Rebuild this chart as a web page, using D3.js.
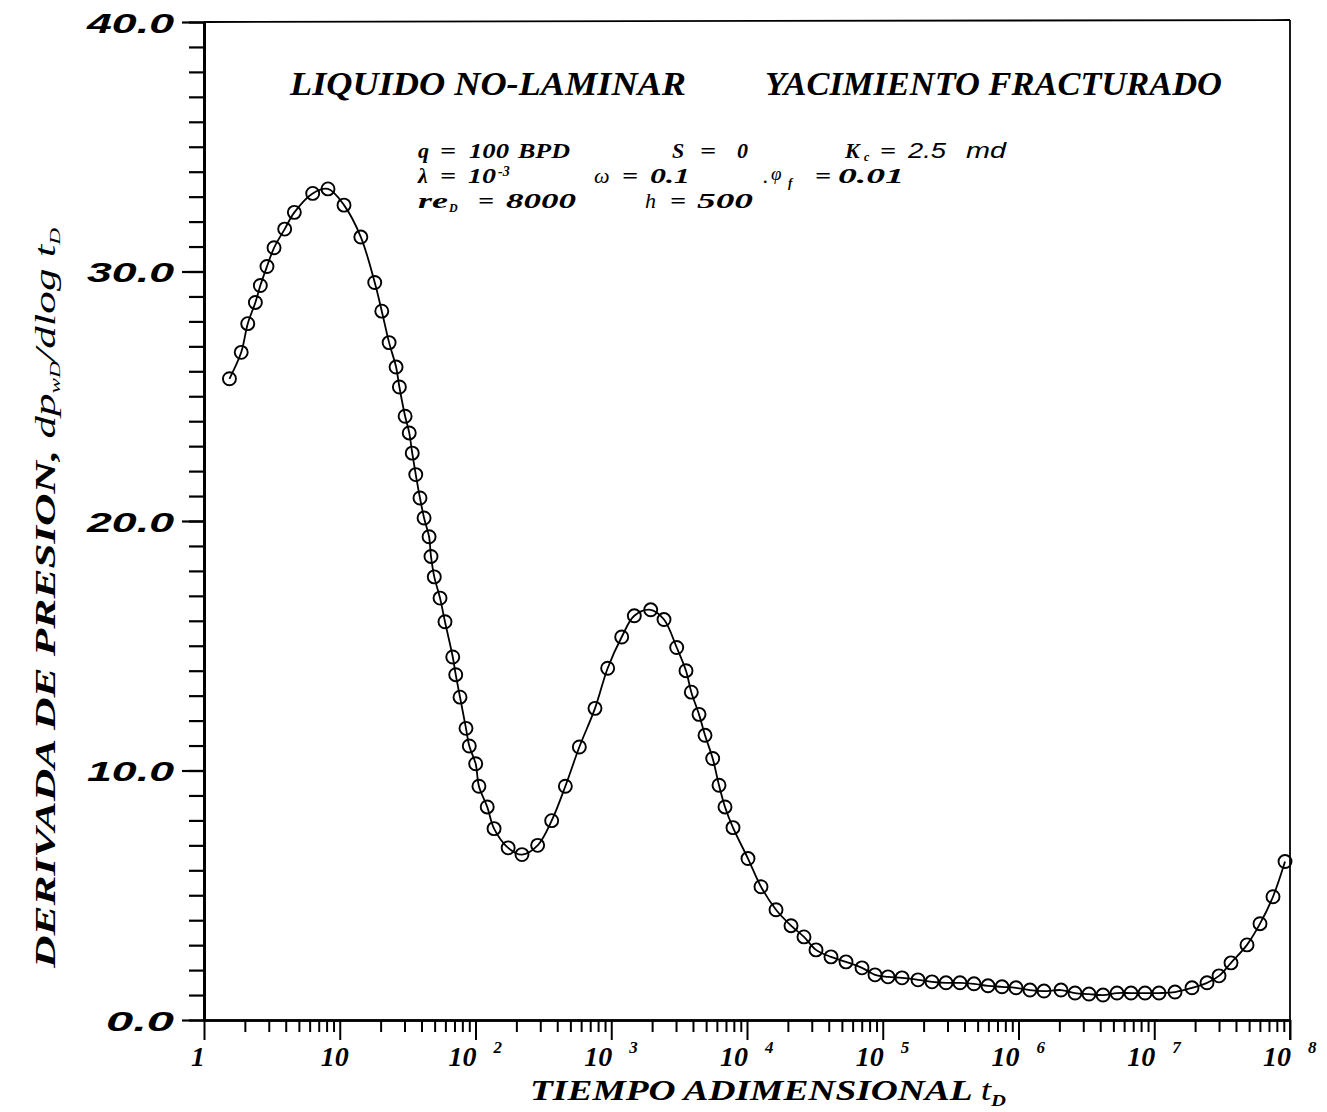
<!DOCTYPE html>
<html><head><meta charset="utf-8">
<script src="https://cdn.jsdelivr.net/npm/d3@7"></script>
<style>
body{margin:0;background:#fff}
svg{display:block}
.serif{font-family:"Liberation Serif","Times New Roman",serif;font-style:italic;font-weight:bold;fill:#000}
.math{font-family:"Liberation Serif","Times New Roman",serif;font-style:italic;font-weight:normal;fill:#000}
</style>
</head><body>
<svg id="chart" width="1327" height="1112"></svg>
<script>
// ---- data ----
const timeValues = [1.54,1.88,2.10,2.39,2.60,2.91,3.28,3.93,4.63,6.32,8.19,10.75,14.3,18.1,20.4,23.1,26.0,27.5,30.3,32.5,34.2,36.3,39.0,41.8,45.5,47.0,49.7,54.8,59.6,68.0,71.5,76.9,85.1,90.0,100.3,106,122,137,174,220,287,364,459,582,759,941,1194,1479,1953,2447,3035,3553,3888,4430,4906,5589,6220,6885,7886,10170,12680,16360,21100,26290,32240,41570,53620,70330,87690,1.093e5,1.387e5,1.818e5,2.306e5,2.924e5,3.707e5,4.701e5,5.962e5,7.558e5,9.585e5,1.215e6,1.541e6,2.056e6,2.608e6,3.306e6,4.194e6,5.317e6,6.743e6,8.55e6,1.084e7,1.422e7,1.897e7,2.447e7,3.0e7,3.676e7,4.823e7,6.012e7,7.495e7,9.19e7];
const derivValues = [25.70,26.76,27.91,28.76,29.44,30.20,30.95,31.70,32.37,33.13,33.31,32.66,31.38,29.56,28.41,27.15,26.17,25.37,24.20,23.53,22.72,21.86,20.92,20.12,19.37,18.58,17.76,16.91,15.96,14.55,13.84,12.94,11.69,10.98,10.27,9.37,8.54,7.67,6.90,6.63,7.00,7.99,9.37,10.94,12.49,14.10,15.35,16.20,16.44,16.05,14.93,14.00,13.14,12.25,11.41,10.48,9.41,8.54,7.71,6.47,5.34,4.42,3.78,3.33,2.81,2.53,2.33,2.09,1.81,1.73,1.69,1.61,1.53,1.49,1.49,1.45,1.37,1.33,1.29,1.20,1.16,1.20,1.08,1.04,1.00,1.08,1.08,1.08,1.08,1.12,1.29,1.49,1.77,2.29,3.01,3.86,4.94,6.35];
const yMajorTicks = [0,10,20,30,40];
const yTickLabels = ["0.0","10.0","20.0","30.0","40.0"];
const xMajorTicks = [1,1e1,1e2,1e3,1e4,1e5,1e6,1e7,1e8];
const xTickBase = ["1","10","10","10","10","10","10","10","10"];
const xTickExp  = ["","","2","3","4","5","6","7","8"];
const titleLeft = "LIQUIDO NO-LAMINAR";
const titleRight = "YACIMIENTO FRACTURADO";
const xAxisTitle = "TIEMPO ADIMENSIONAL";
const yAxisTitle = "DERIVADA DE PRESION,";

// ---- layout ----
const svg = d3.select("#chart");
const X0 = 204, X1 = 1290, Y0 = 1020, Y1 = 22;
const x = d3.scaleLog().domain([1,1e8]).range([X0,X1]);
const y = d3.scaleLinear().domain([0,40]).range([Y0,Y1]);

// frame (top and right)
svg.append("line").attr("x1",X0).attr("x2",X1).attr("y1",Y1).attr("y2",Y1-2)
  .attr("stroke","#000").attr("stroke-width",1.8);
svg.append("line").attr("x1",X1).attr("x2",X1).attr("y1",Y1-2).attr("y2",Y0+20)
  .attr("stroke","#000").attr("stroke-width",1.8);

// y axis: minor + major
const yMinor = svg.append("g").attr("transform",`translate(${X0},0)`)
  .call(d3.axisLeft(y).tickValues(d3.range(0,41)).tickSize(15).tickSizeOuter(0).tickFormat(""));
const yMajor = svg.append("g").attr("transform",`translate(${X0},0)`)
  .call(d3.axisLeft(y).tickValues(yMajorTicks).tickSize(22).tickSizeOuter(0).tickPadding(8)
    .tickFormat((d,i)=>yTickLabels[i]));
[yMinor,yMajor].forEach(g=>{
  g.selectAll("line").attr("stroke","#000").attr("stroke-width",2.2);
  g.select(".domain").attr("stroke","#000").attr("stroke-width",3);
});
yMajor.selectAll("text")
  .attr("font-family","'Liberation Sans',Arial,sans-serif")
  .attr("font-style","italic").attr("font-weight","bold").attr("font-size",28)
  .attr("fill","#000")
  .attr("dy","0.36em")
  .attr("textLength",d=> d>=10 ? 87 : 68).attr("lengthAdjust","spacingAndGlyphs");

// x axis: minor + major
const minorX = [];
for (let d=0; d<8; d++) for (let k=2; k<=9; k++) minorX.push(k*Math.pow(10,d));
const xMinor = svg.append("g").attr("transform",`translate(0,${Y0})`)
  .call(d3.axisBottom(x).tickValues(minorX).tickSize(12).tickSizeOuter(0).tickFormat(""));
const xMajor = svg.append("g").attr("transform",`translate(0,${Y0})`)
  .call(d3.axisBottom(x).tickValues(xMajorTicks).tickSize(20).tickSizeOuter(0).tickFormat(""));
[xMinor,xMajor].forEach(g=>{
  g.selectAll("line").attr("stroke","#000").attr("stroke-width",2);
  g.select(".domain").attr("stroke","#000").attr("stroke-width",2.6);
});
// x tick labels with superscripts
const xl = svg.append("g");
xMajorTicks.forEach((t,i)=>{
  const px = x(t);
  const txt = xl.append("text").attr("class","serif").attr("font-size",28).attr("y",1066);
  if (xTickExp[i]==="") {
    txt.attr("x", i===0 ? px-6 : px-5).attr("text-anchor","middle").text(xTickBase[i]);
  } else {
    txt.attr("x",px-27).text(xTickBase[i]);
    txt.append("tspan").attr("x",px+18).attr("dy",-13).attr("font-size",17).text(xTickExp[i]);
  }
});

// axis titles
const xt = svg.append("text").attr("class","serif").attr("font-size",29)
  .attr("x",530).attr("y",1100).attr("textLength",476).attr("lengthAdjust","spacingAndGlyphs");
xt.append("tspan").text(xAxisTitle+"  ");
xt.append("tspan").attr("font-weight","normal").text("t");
xt.append("tspan").attr("font-size",16).attr("dy",6).text("D");

const yt = svg.append("text").attr("class","serif").attr("font-size",29)
  .attr("transform","translate(55,968) rotate(-90)")
  .attr("x",0).attr("y",0).attr("textLength",740).attr("lengthAdjust","spacingAndGlyphs");
yt.append("tspan").text(yAxisTitle+" ");
yt.append("tspan").attr("font-weight","normal").text("dp");
yt.append("tspan").attr("font-weight","normal").attr("font-size",15).attr("dy",5).text("wD");
yt.append("tspan").attr("font-weight","normal").attr("dy",-5).text("/dlog  t");
yt.append("tspan").attr("font-weight","normal").attr("font-size",15).attr("dy",5).text("D");

// title
svg.append("text").attr("class","serif").attr("font-size",33).attr("x",290).attr("y",95)
  .attr("textLength",396).attr("lengthAdjust","spacingAndGlyphs").text(titleLeft);
svg.append("text").attr("class","serif").attr("font-size",33).attr("x",765).attr("y",95)
  .attr("textLength",457).attr("lengthAdjust","spacingAndGlyphs").text(titleRight);

// parameter block: one text per line, pieces positioned with tspans
function line(py, parts) {
  const t = svg.append("text").attr("class","serif").attr("font-size",22).attr("y",py);
  parts.forEach(p=>{
    const s = t.append("tspan").text(p.s);
    if (p.x !== undefined) s.attr("x",p.x);
    if (p.dy) s.attr("dy",p.dy);
    if (p.size) s.attr("font-size",p.size);
    if (p.w) s.style("font-weight",p.w);
    if (p.f) s.style("font-family",p.f);
    if (p.len) s.attr("textLength",p.len).attr("lengthAdjust","spacingAndGlyphs");
  });
  return t;
}
const sans = "'Liberation Sans',Arial,sans-serif";
line(158, [
  {s:"q",x:418},{s:"=",x:440,len:16},{s:"100",x:469,len:40},{s:"BPD",x:518,len:52},
  {s:"S",x:672},{s:"=",x:700,len:16},{s:"0",x:737},
  {s:"K",x:845},{s:"c",x:864,dy:2.5,size:12},{s:"=",x:880,dy:-2.5,len:16},
  {s:"2.5",x:908,w:"normal",f:sans,len:38},{s:"md",x:966,w:"normal",f:sans,len:40}
]);
line(183, [
  {s:"λ",x:418},{s:"=",x:440,len:16},{s:"10",x:468,len:28},{s:"-3",x:498,dy:-7.5,size:14},
  {s:"ω",x:594,dy:7.5,w:"normal"},{s:"=",x:622,len:16},{s:"0.1",x:650,len:40},
  {s:".",x:763,w:"normal"},{s:"φ",x:771,dy:-3,w:"normal",size:19},{s:"f",x:788,dy:7,size:13},
  {s:"=",x:815,dy:-4,len:16},{s:"0.01",x:838,len:66}
]);
line(208, [
  {s:"re",x:418,len:30},{s:"D",x:449,dy:4,size:12},{s:"=",x:478,dy:-4,len:16},{s:"8000",x:506,len:70},
  {s:"h",x:645,w:"normal"},{s:"=",x:670,len:16},{s:"500",x:697,len:56}
]);

// data curve
const pts = timeValues.map((t,i)=>({t, v:derivValues[i]}));
svg.append("path").datum(pts)
  .attr("d", d3.line().x(d=>x(d.t)).y(d=>y(d.v)).curve(d3.curveCatmullRom.alpha(0.5)))
  .attr("fill","none").attr("stroke","#000").attr("stroke-width",1.8);
svg.append("g").selectAll("circle").data(pts).join("circle")
  .attr("cx",d=>x(d.t)).attr("cy",d=>y(d.v)).attr("r",6.5)
  .attr("fill","none").attr("stroke","#000").attr("stroke-width",1.9);
</script>
</body></html>
